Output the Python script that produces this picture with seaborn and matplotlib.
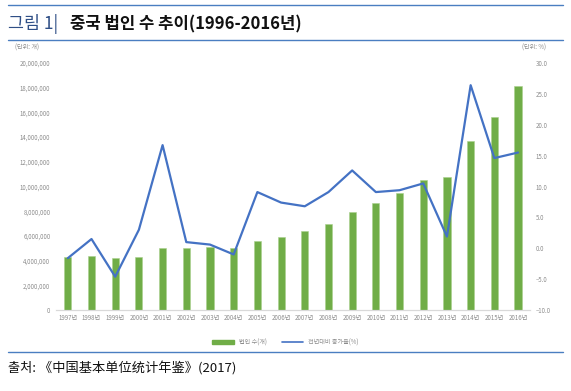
import matplotlib
matplotlib.use("Agg")
import matplotlib.pyplot as plt
import matplotlib.patches as mpatches
import matplotlib.lines as mlines
import numpy as np
import pandas as pd
import seaborn as sns
from matplotlib.ticker import FuncFormatter, MultipleLocator

years = [f"{y}년" for y in range(1997, 2017)]
corp_counts = [4300000, 4400000, 4200000, 4300000, 5000000, 5050000, 5100000, 5050000,
               5550000, 5950000, 6400000, 7000000, 7900000, 8650000, 9500000, 10550000,
               10750000, 13650000, 15650000, 18100000]
growth_rate = [-1.6, 1.5, -4.6, 3.0, 16.7, 1.0, 0.6, -1.0, 9.1, 7.4, 6.8, 9.1, 12.6,
               9.1, 9.4, 10.5, 1.9, 26.4, 14.6, 15.5]

BAR_COLOR = "#70AD47"
LINE_COLOR = "#4472C4"
TICK_COLOR = "#8C8C8C"

sns.set_theme(style="white")
plt.rcParams["font.family"] = ["Noto Sans CJK KR", "DejaVu Sans"]
plt.rcParams["axes.unicode_minus"] = False

df = pd.DataFrame({"year": years, "count": corp_counts, "rate": growth_rate})
df["pos"] = np.arange(len(df))

fig = plt.figure(figsize=(5.71, 3.91), dpi=100)
ax = fig.add_axes([0.098, 0.207, 0.83, 0.632])

sns.barplot(data=df, x="year", y="count", color=BAR_COLOR, width=0.3,
            saturation=1, edgecolor="#A9D18E", linewidth=0.4, ax=ax)
ax.set_ylim(0, 20000000)
ax.yaxis.set_major_locator(MultipleLocator(2000000))
ax.yaxis.set_major_formatter(FuncFormatter(lambda v, _: f"{int(v):,}"))
ax.set_xlabel("")
ax.set_ylabel("")
ax.set_xlim(-0.5, len(df) - 0.5)

ax2 = ax.twinx()
sns.lineplot(data=df, x="pos", y="rate", color=LINE_COLOR, linewidth=1.6, ax=ax2)
ax2.set_ylim(-10, 30)
ax2.yaxis.set_major_locator(MultipleLocator(5))
ax2.yaxis.set_major_formatter(FuncFormatter(lambda v, _: f"{v:.1f}".replace("-", "–")))
ax2.set_xlabel("")
ax2.set_ylabel("")

for a in (ax, ax2):
    for side in ("top", "left", "right"):
        a.spines[side].set_visible(False)
    a.spines["bottom"].set_color("#D9D9D9")
    a.spines["bottom"].set_linewidth(0.8)
    a.tick_params(axis="both", length=0, labelsize=4.4, colors=TICK_COLOR, pad=4)
    a.grid(False)
ax.tick_params(axis="x", pad=3)

fig.text(0.026, 0.877, "(단위: 개)", fontsize=4.4, color=TICK_COLOR, va="center")
fig.text(0.957, 0.877, "(단위: %)", fontsize=4.4, color=TICK_COLOR, va="center", ha="right")

# header and footer rules
for y in (0.987, 0.897, 0.1):
    fig.add_artist(mlines.Line2D([0.014, 0.986], [y, y], color="#4A7EC1",
                                 linewidth=1.0, transform=fig.transFigure))

fig.text(0.014, 0.938, "그림 1|", fontsize=12.5, color="#2F4F86", va="center")
fig.text(0.122, 0.938, "중국 법인 수 추이(1996-2016년)", fontsize=12,
         color="#111111", fontweight="bold", va="center")
fig.text(0.014, 0.058, "출처: 《中国基本单位统计年鉴》(2017)", fontsize=9.5,
         color="#111111", va="center")

handles = [mpatches.Patch(color=BAR_COLOR, label="법인 수(개)"),
           mlines.Line2D([], [], color=LINE_COLOR, linewidth=1.2, label="전년대비 증가율(%)")]
fig.legend(handles=handles, loc="center", bbox_to_anchor=(0.5, 0.125), ncol=2,
           frameon=False, fontsize=4.4, labelcolor=TICK_COLOR, handlelength=3.5,
           handleheight=0.6, columnspacing=2.5)

fig.savefig("out.png", dpi=100)
